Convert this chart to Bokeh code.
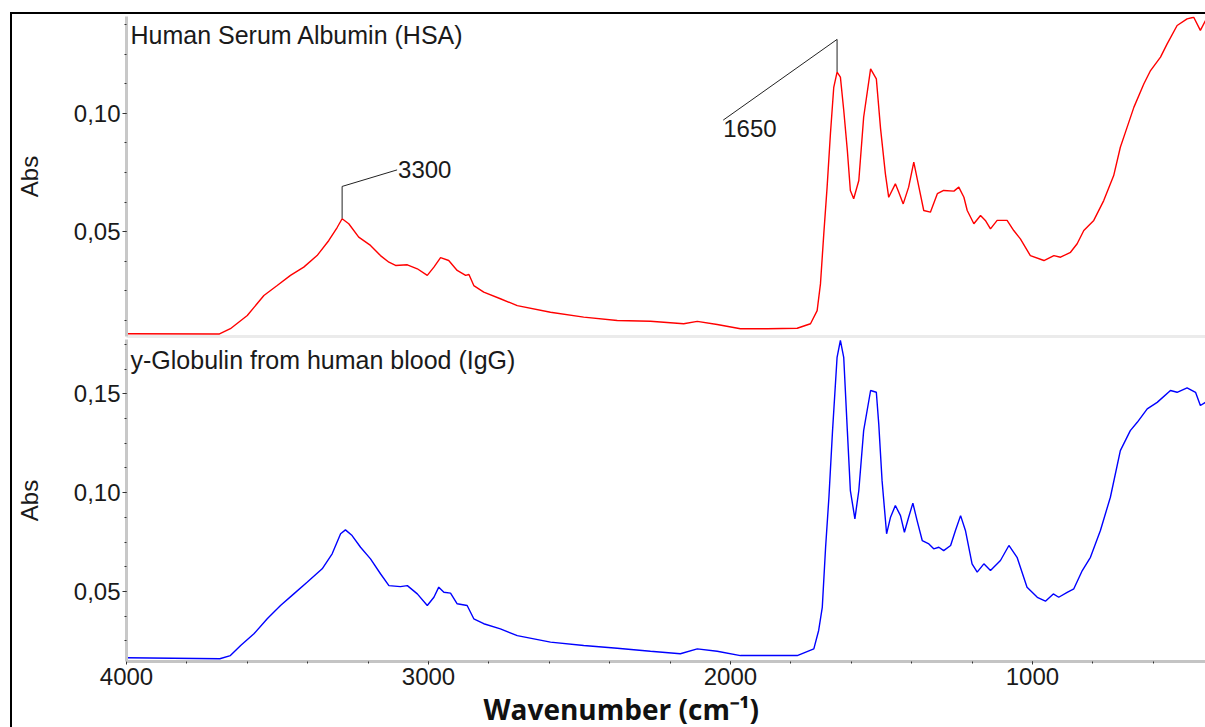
import numpy as np
from bokeh.plotting import figure
from bokeh.layouts import column
from bokeh.models import Range1d, FixedTicker, CustomJSTickFormatter, Label, Title
from bokeh.core.properties import value
from bokeh.embed import file_html
from bokeh.resources import INLINE

# ---------------- data ----------------
wn_hsa = [4000, 3692, 3656, 3600, 3545, 3501, 3457, 3413, 3369, 3330, 3302, 3286, 3264, 3231,
          3192, 3159, 3131, 3109, 3070, 3037, 3004, 2982, 2960, 2933, 2905, 2877, 2866, 2850,
          2817, 2762, 2706, 2596, 2486, 2375, 2265, 2155, 2110, 2044, 1967, 1878, 1779, 1735,
          1713, 1702, 1691, 1680, 1669, 1658, 1647, 1636, 1625, 1613, 1603, 1592, 1575, 1559,
          1536, 1517, 1503, 1487, 1476, 1454, 1443, 1428, 1410, 1393, 1376, 1360, 1338, 1315,
          1294, 1260, 1244, 1227, 1216, 1194, 1172, 1156, 1139, 1117, 1084, 1062, 1040, 1007,
          962, 929, 907, 874, 852, 830, 797, 764, 731, 709, 692, 664, 631, 609, 576, 554, 521,
          488, 466, 444, 427]
abs_hsa = [0.0067, 0.0066, 0.0088, 0.0144, 0.0229, 0.0271, 0.0314, 0.0349, 0.0398, 0.0462,
           0.0518, 0.0554, 0.0533, 0.0476, 0.0441, 0.0398, 0.0370, 0.0356, 0.0359, 0.0342,
           0.0314, 0.0349, 0.0389, 0.0377, 0.0335, 0.0314, 0.0318, 0.0271, 0.0243, 0.0215,
           0.0186, 0.0158, 0.0137, 0.0123, 0.0120, 0.0109, 0.0119, 0.0106, 0.0088, 0.0088,
           0.0090, 0.0109, 0.0165, 0.0278, 0.0490, 0.0688, 0.0914, 0.1111, 0.1175, 0.1154,
           0.1015, 0.0843, 0.0674, 0.0639, 0.0716, 0.0984, 0.1189, 0.1147, 0.0936, 0.0744,
           0.0645, 0.0702, 0.0667, 0.0617, 0.0688, 0.0794, 0.0688, 0.0589, 0.0582, 0.0660,
           0.0674, 0.0671, 0.0688, 0.0645, 0.0589, 0.0533, 0.0568, 0.0547, 0.0511, 0.0547,
           0.0547, 0.0504, 0.0469, 0.0398, 0.0377, 0.0398, 0.0391, 0.0412, 0.0448, 0.0504,
           0.0547, 0.0631, 0.0737, 0.0857, 0.0921, 0.1027, 0.1126, 0.1182, 0.1239, 0.1295,
           0.1373, 0.1401, 0.1408, 0.1352, 0.1394]

wn_igg = [4000, 3691, 3656, 3622, 3578, 3534, 3490, 3446, 3402, 3352, 3319, 3291, 3275, 3253,
          3225, 3192, 3159, 3131, 3093, 3070, 3037, 3004, 2982, 2966, 2949, 2927, 2905, 2872,
          2850, 2817, 2762, 2706, 2596, 2486, 2375, 2265, 2166, 2110, 2044, 1967, 1878, 1779,
          1724, 1708, 1696, 1685, 1674, 1662, 1647, 1636, 1625, 1613, 1603, 1588, 1575, 1559,
          1536, 1517, 1509, 1498, 1483, 1470, 1454, 1437, 1424, 1410, 1396, 1382, 1365, 1343,
          1327, 1310, 1294, 1271, 1255, 1238, 1222, 1200, 1183, 1161, 1139, 1106, 1078, 1051,
          1018, 984, 957, 931, 913, 885, 863, 835, 808, 775, 742, 709, 676, 653, 620, 587, 543,
          521, 488, 460, 444, 427]
abs_igg = [0.0165, 0.0160, 0.0176, 0.0227, 0.0286, 0.0362, 0.0429, 0.0488, 0.0547, 0.0615,
           0.0691, 0.0792, 0.0812, 0.0783, 0.0724, 0.0665, 0.0590, 0.0530, 0.0525, 0.0530,
           0.0488, 0.0429, 0.0471, 0.0522, 0.0496, 0.0492, 0.0438, 0.0429, 0.0362, 0.0337,
           0.0311, 0.0277, 0.0244, 0.0227, 0.0213, 0.0198, 0.0185, 0.0210, 0.0198, 0.0176,
           0.0176, 0.0176, 0.0210, 0.0303, 0.0420, 0.0724, 0.0977, 0.1314, 0.1685, 0.1770,
           0.1685, 0.1314, 0.1011, 0.0868, 0.1011, 0.1314, 0.1517, 0.1508, 0.1348, 0.1061,
           0.0792, 0.0876, 0.0935, 0.0884, 0.0800, 0.0876, 0.0947, 0.0859, 0.0758, 0.0741,
           0.0716, 0.0724, 0.0707, 0.0733, 0.0809, 0.0884, 0.0809, 0.0640, 0.0598, 0.0640,
           0.0606, 0.0657, 0.0733, 0.0673, 0.0522, 0.0471, 0.0451, 0.0488, 0.0471, 0.0496,
           0.0514, 0.0606, 0.0673, 0.0809, 0.0977, 0.1213, 0.1314, 0.1356, 0.1424, 0.1457,
           0.1517, 0.1508, 0.1530, 0.1508, 0.1441, 0.1457]

panel_titles = ["Human Serum Albumin (HSA)", "y-Globulin from human blood (IgG)"]
x_title = "Wavenumber (cm\u207b\u00b9)"
y_title = "Abs"

# peak annotations (HSA panel)
peak_labels = ["3300", "1650"]
peak_wn = [3286, 1647]
peak_abs = [0.0555, 0.1176]
elbow_abs = [0.0691, 0.1314]
label_wn = [3104, 2024]
label_abs = [0.0761, 0.0972]

x_ticks = [1000, 2000, 3000, 4000]
x_minor = list(range(400, 4001, 200))
y_ticks_top = [0.05, 0.10]
y_ticks_bottom = [0.05, 0.10, 0.15]
y_minor = [round(0.0125 * i, 4) for i in range(1, 15)]

FONT = "Liberation Sans"
TXT = "#1a1a1a"

fmt = CustomJSTickFormatter(code="return tick.toFixed(2).replace('.', ',');")
x_range = Range1d(4000, 427)


def style(p, yticks):
    p.background_fill_color = "white"
    p.border_fill_color = "white"
    p.outline_line_color = None
    p.xgrid.visible = False
    p.ygrid.visible = False
    ya = p.yaxis[0]
    ya.ticker = FixedTicker(ticks=yticks, minor_ticks=y_minor)
    ya.formatter = fmt
    ya.axis_label = y_title
    ya.axis_label_text_font = FONT
    ya.axis_label_text_font_size = "24px"
    ya.axis_label_text_font_style = "normal"
    ya.axis_label_text_color = TXT
    ya.axis_label_standoff = 28
    ya.major_label_text_font = FONT
    ya.major_label_text_font_size = "24px"
    ya.major_label_text_color = TXT
    ya.major_label_standoff = 2
    ya.axis_line_color = "#c8c8c8"
    ya.axis_line_width = 3
    ya.major_tick_line_color = "#333333"
    ya.minor_tick_line_color = "#333333"
    ya.major_tick_out = 4
    ya.major_tick_in = 0
    ya.minor_tick_out = 2
    ya.minor_tick_in = 0


# ---------------- top panel: HSA ----------------
p1 = figure(width=1193, height=324, x_range=x_range, y_range=Range1d(0.00551, 0.1411),
            output_backend="svg", toolbar_location=None,
            min_border_left=114, min_border_right=0, min_border_top=2, min_border_bottom=2)
style(p1, y_ticks_top)
xa1 = p1.xaxis[0]
xa1.ticker = FixedTicker(ticks=[], minor_ticks=[])
xa1.major_label_standoff = 0
xa1.major_tick_out = 0
xa1.major_tick_in = 0
xa1.minor_tick_out = 0
xa1.minor_tick_in = 0
xa1.axis_line_color = "#ebebeb"
xa1.axis_line_width = 3

p1.line(wn_hsa, abs_hsa, line_color="#ff0000", line_width=1.4)

xs = [[peak_wn[i], peak_wn[i], label_wn[i]] for i in range(len(peak_wn))]
ys = [[peak_abs[i], elbow_abs[i], label_abs[i]] for i in range(len(peak_wn))]
p1.multi_line(xs, ys, line_color="#222222", line_width=1)
p1.text(x=[label_wn[0]], y=[label_abs[0]], text=[peak_labels[0]], text_font=value(FONT),
        text_font_size="24px", text_color=TXT, text_align="left", text_baseline="alphabetic",
        x_offset=1)
p1.text(x=[label_wn[1]], y=[label_abs[1]], text=[peak_labels[1]], text_font=value(FONT),
        text_font_size="24px", text_color=TXT, text_align="left", text_baseline="top",
        x_offset=0)
p1.add_layout(Label(x=4000, y=0.1411, text=panel_titles[0], x_offset=4, y_offset=-4,
                    text_font=FONT, text_font_size="25px", text_color=TXT,
                    text_baseline="top", text_align="left"))

# ---------------- bottom panel: IgG ----------------
p2 = figure(width=1193, height=389, x_range=x_range, y_range=Range1d(0.0146, 0.1775),
            output_backend="svg", toolbar_location=None,
            min_border_left=114, min_border_right=0, min_border_top=1, min_border_bottom=66)
style(p2, y_ticks_bottom)
xa2 = p2.xaxis[0]
xa2.ticker = FixedTicker(ticks=x_ticks, minor_ticks=x_minor)
xa2.major_label_text_font = FONT
xa2.major_label_text_font_size = "24px"
xa2.major_label_text_color = TXT
xa2.major_label_standoff = 3
xa2.axis_line_color = "#c4c4c4"
xa2.axis_line_width = 3
xa2.major_tick_line_color = "#333333"
xa2.minor_tick_line_color = "#333333"
xa2.major_tick_out = 3
xa2.major_tick_in = 0
xa2.minor_tick_out = 2
xa2.minor_tick_in = 0

p2.line(wn_igg, abs_igg, line_color="#0000ff", line_width=1.4)
p2.add_layout(Label(x=4000, y=0.1775, text=panel_titles[1], x_offset=4, y_offset=-6,
                    text_font=FONT, text_font_size="25px", text_color=TXT,
                    text_baseline="top", text_align="left"))
# x-axis title as a Title below the axis, shifted left like in the reference
p2.add_layout(Title(text=x_title, align="left", offset=357, standoff=0,
                    text_font="Open Sans", text_font_size="28px", text_font_style="bold",
                    text_color="#111111"), "below")

layout = column(p1, p2, spacing=0,
                styles={"border-top": "2px solid black", "border-left": "2px solid black",
                        "margin-top": "12px", "margin-left": "10px"})

open("out.html", "w").write(file_html(layout, INLINE))
